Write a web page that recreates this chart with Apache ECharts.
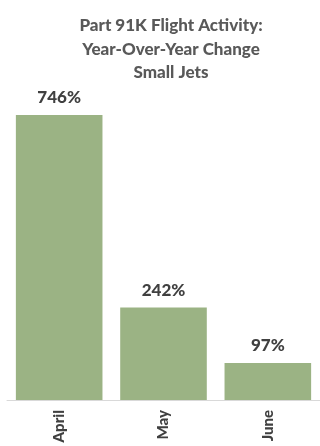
<!DOCTYPE html>
<html><head><meta charset="utf-8">
<script src="https://cdn.jsdelivr.net/npm/echarts@6/dist/echarts.min.js"></script>
<style>html,body{margin:0;padding:0;background:#fff}#c{width:320px;height:446px}</style>
</head><body><div id="c"></div>
<script>
var titleLines = ['Part 91K Flight Activity:', 'Year-Over-Year Change', 'Small Jets'];
var categories = ['April', 'May', 'June'];
var values = [746, 242, 97];

var chart = echarts.init(document.getElementById('c'), null, {renderer: 'canvas'});
chart.setOption({
  animation: false,
  title: {
    text: titleLines.join('\n'),
    left: 166, top: 9, textAlign: 'center',
    textStyle: {fontFamily: 'Lato', fontWeight: 900, fontSize: 17, color: '#595959', lineHeight: 23.5}
  },
  grid: {left: 7, width: 318, top: 94.4, bottom: 46, containLabel: false},
  xAxis: {
    type: 'category', data: categories,
    axisLine: {lineStyle: {color: '#D9D9D9', width: 1}},
    axisTick: {show: false},
    axisLabel: {rotate: 90, margin: 10, fontFamily: 'Lato', fontWeight: 900, fontSize: 15, color: '#404040'}
  },
  yAxis: {type: 'value', min: 0, max: 800, show: false, splitLine: {show: false}},
  series: [{
    type: 'bar', data: values, barCategoryGap: '17%',
    itemStyle: {color: '#9BB384'},
    label: {show: true, position: 'top', distance: 9, formatter: '{c}%', fontFamily: 'Lato', fontWeight: 900, fontSize: 17, color: '#404040'}
  }]
});
</script></body></html>
